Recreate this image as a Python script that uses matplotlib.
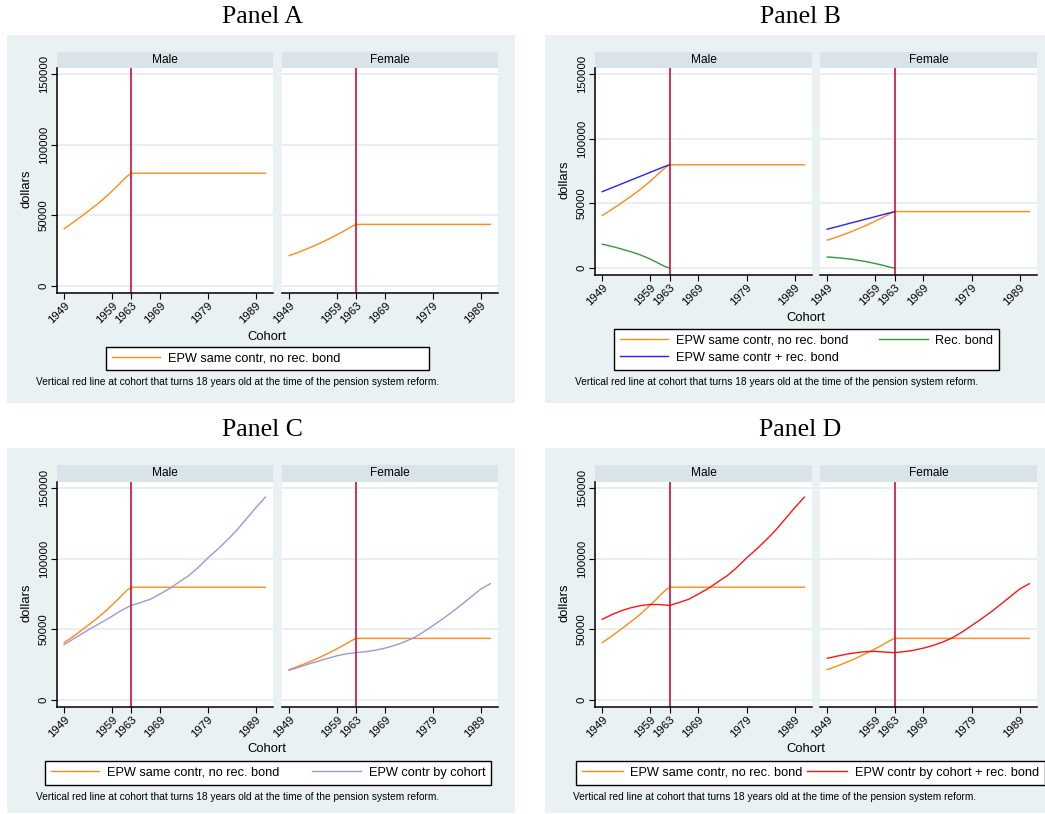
import matplotlib
matplotlib.use("Agg")
import matplotlib.pyplot as plt
from matplotlib.patches import Rectangle

plt.rcParams['font.family'] = ['Liberation Sans', 'DejaVu Sans']

# ---- data (dollars by birth cohort) ----
years_same = [1949, 1950, 1951, 1952, 1953, 1954, 1955, 1956, 1957, 1958,
              1959, 1960, 1961, 1962, 1963, 1991]
same_male = [40600, 42900, 45300, 47800, 50300, 52900, 55500, 58200, 61000, 64000,
             67200, 70500, 73900, 77300, 79800, 79800]
same_female = [21500, 22700, 24000, 25300, 26700, 28100, 29600, 31200, 32800, 34500,
               36300, 38100, 40000, 42000, 43600, 43600]

years_bond = [1949, 1950, 1951, 1952, 1953, 1954, 1955, 1956, 1957, 1958,
              1959, 1960, 1961, 1962, 1963]
bond_male = [18400, 17600, 16700, 15700, 14700, 13600, 12500, 11300, 10000, 8500,
             6800, 5000, 3100, 1200, 0]
bond_female = [8500, 8300, 7900, 7600, 7200, 6800, 6200, 5600, 5000, 4200,
               3400, 2600, 1700, 600, 0]
plus_male = [59000, 60500, 62000, 63500, 65000, 66500, 68000, 69500, 71000, 72500,
             74000, 75500, 77000, 78500, 79800]
plus_female = [30000, 31000, 31900, 32900, 33900, 34900, 35800, 36800, 37800, 38700,
               39700, 40700, 41700, 42600, 43600]

years_cohort = [1949, 1951, 1953, 1955, 1957, 1959, 1961, 1963, 1965, 1967, 1969,
                1971, 1973, 1975, 1977, 1979, 1981, 1983, 1985, 1987, 1989, 1991]
cohort_male = [39200, 43400, 47500, 51500, 55300, 59300, 63500, 66900, 69000, 71300, 75000,
               78800, 83500, 88000, 93800, 100500, 106500, 113000, 120000, 128000, 136000, 143500]
cohort_female = [21000, 23200, 25400, 27400, 29400, 31300, 32700, 33500, 34200, 35200, 36700,
                 38600, 41000, 44000, 48000, 52600, 57300, 62200, 67500, 73000, 78500, 82300]
cohort_bond_male = [57100, 60400, 63200, 65300, 66800, 67600, 67500, 66900, 69000, 71300, 75000,
                    78800, 83500, 88000, 93800, 100500, 106500, 113000, 120000, 128000, 136000, 143500]
cohort_bond_female = [29500, 31000, 32400, 33500, 34200, 34400, 33900, 33500, 34200, 35200, 36700,
                      38600, 41000, 44000, 48000, 52600, 57300, 62200, 67500, 73000, 78500, 82300]

xticks = [1949, 1959, 1963, 1969, 1979, 1989]
yticks = [0, 50000, 100000, 150000]
reform_year = 1963

ORANGE = '#ff8a14'
BLUE = '#2222ff'
GREEN = '#2f9a3a'
PURPLE = '#a095dd'
RED = '#ff1414'
VLINE = '#c8103c'
BG = '#e9f1f3'
STRIP = '#d8e4ea'

lab_same = 'EPW same contr, no rec. bond'
lab_plus = 'EPW same contr + rec. bond'
lab_bond = 'Rec. bond'
lab_cohort = 'EPW contr by cohort'
lab_cohort_bond = 'EPW contr by cohort + rec. bond'
caption = 'Vertical red line at cohort that turns 18 years old at the time of the pension system reform.'

s_same = (lab_same, ORANGE, years_same, same_male, same_female)
s_plus = (lab_plus, BLUE, years_bond, plus_male, plus_female)
s_bond = (lab_bond, GREEN, years_bond, bond_male, bond_female)
s_cohort = (lab_cohort, PURPLE, years_cohort, cohort_male, cohort_female)
s_cohort_bond = (lab_cohort_bond, RED, years_cohort, cohort_bond_male, cohort_bond_female)

W, H = 1045, 814
fig = plt.figure(figsize=(W / 100, H / 100), dpi=100)
fig.patch.set_facecolor('white')


def rect(x0, y0, x1, y1):
    return [x0 / W, 1 - y1 / H, (x1 - x0) / W, (y1 - y0) / H]


panels = [
    dict(title='Panel A', box=(7, 35, 515, 403), title_xy=(262, 17),
         cols=[(57, 273), (282, 498)], strip=(52, 68), plot=(68, 293),
         cohort_xy=(267, 337), dollars_xy=(27, 189),
         legend=(106, 347, 429), ncol=1, expand=True, caption_xy=(36, 382),
         series=[s_same], legend_order=[0]),
    dict(title='Panel B', box=(545, 35, 1045, 403), title_xy=(800, 17),
         cols=[(595, 812), (820, 1037)], strip=(52, 68), plot=(68, 275),
         cohort_xy=(806, 318), dollars_xy=(565, 180),
         legend=(614, 329, 999), ncol=2, expand=True, caption_xy=(575, 382),
         series=[s_same, s_plus, s_bond], legend_order=[0, 1, 2]),
    dict(title='Panel C', box=(7, 448, 515, 813), title_xy=(262, 430),
         cols=[(57, 273), (282, 498)], strip=(465, 482), plot=(482, 707),
         cohort_xy=(267, 749), dollars_xy=(27, 603),
         legend=(45, 761, 491), ncol=2, expand=True, caption_xy=(36, 797),
         series=[s_same, s_cohort], legend_order=[0, 1]),
    dict(title='Panel D', box=(545, 448, 1045, 813), title_xy=(800, 430),
         cols=[(595, 812), (820, 1037)], strip=(465, 482), plot=(482, 707),
         cohort_xy=(806, 749), dollars_xy=(565, 603),
         legend=(576, 761, 1036), ncol=2, expand=False, caption_xy=(573, 797),
         series=[s_same, s_cohort_bond], legend_order=[0, 1]),
]

for p in panels:
    bx0, by0, bx1, by1 = p['box']
    fig.add_artist(Rectangle((bx0 / W, 1 - by1 / H), (bx1 - bx0) / W, (by1 - by0) / H,
                             transform=fig.transFigure, facecolor=BG, edgecolor='none', zorder=0))
    fig.text(p['title_xy'][0] / W, 1 - p['title_xy'][1] / H, p['title'],
             family='Liberation Serif', fontsize=18.5, ha='center', va='center')

    # y limits so that 0 sits 7px above the axis and 150000 sits 6px below the strip
    pt, pb = p['plot']
    scale = 150000 / ((pb - 7) - (pt + 6))
    ylo, yhi = -7 * scale, 150000 + 6 * scale

    handles = []
    for i, (xl, xr) in enumerate(p['cols']):
        sax = fig.add_axes(rect(xl, p['strip'][0], xr, p['strip'][1]))
        sax.set_facecolor(STRIP)
        sax.set_xticks([])
        sax.set_yticks([])
        for sp in sax.spines.values():
            sp.set_visible(False)
        sax.text(0.5, 0.5, ['Male', 'Female'][i], transform=sax.transAxes,
                 ha='center', va='center', fontsize=8.6)

        ax = fig.add_axes(rect(xl, pt, xr, pb))
        ax.set_facecolor('white')
        ax.set_xlim(1947.5, 1992.6)
        ax.set_ylim(ylo, yhi)
        ax.set_axisbelow(True)
        ax.yaxis.grid(True, color='#e6eef1', lw=1.3)
        ax.set_yticks(yticks)
        ax.set_xticks(xticks)
        ax.set_xticklabels([str(t) for t in xticks])
        ax.tick_params(axis='x', length=4, width=0.8, labelsize=8.2, pad=1.5)
        for lab in ax.get_xticklabels():
            lab.set_rotation(45)
            lab.set_ha('right')
            lab.set_rotation_mode('anchor')
        for side in ('top', 'right'):
            ax.spines[side].set_visible(False)
        ax.spines['bottom'].set_linewidth(1.1)
        if i == 0:
            ax.spines['left'].set_linewidth(1.1)
            ax.set_yticklabels([str(t) for t in yticks])
            ax.tick_params(axis='y', length=4, width=0.8, labelsize=8.2, pad=2)
            for lab in ax.get_yticklabels():
                lab.set_rotation(90)
                lab.set_va('center')
        else:
            ax.spines['left'].set_visible(False)
            ax.tick_params(axis='y', left=False, labelleft=False)

        for label, color, yrs, vm, vf in p['series']:
            ln, = ax.plot(yrs, vm if i == 0 else vf, color=color, lw=1.0, label=label)
            if i == 0:
                handles.append(ln)
        ax.axvline(reform_year, color=VLINE, lw=1.2)

    fig.text(p['cohort_xy'][0] / W, 1 - p['cohort_xy'][1] / H, 'Cohort',
             fontsize=9.4, ha='center', va='center')
    fig.text(p['dollars_xy'][0] / W, 1 - p['dollars_xy'][1] / H, 'dollars',
             fontsize=9.4, ha='center', va='center', rotation=90)

    lx0, ltop, lx1 = p['legend']
    hs = [handles[k] for k in p['legend_order']]
    if p['expand']:
        anchor = (lx0 / W, 1 - ltop / H, (lx1 - lx0) / W, 0)
        extra = dict(mode='expand', handlelength=3.8, columnspacing=0.4)
    else:
        anchor = (lx0 / W, 1 - ltop / H)
        extra = dict(handlelength=3.2, columnspacing=0.3)
    leg = fig.legend(hs, [h.get_label() for h in hs], loc='upper left',
                     bbox_to_anchor=anchor, ncol=p['ncol'], fontsize=9.2,
                     frameon=True, fancybox=False, framealpha=1, edgecolor='black',
                     borderaxespad=0, borderpad=0.45,
                     handletextpad=0.6, labelspacing=0.4, **extra)
    leg.get_frame().set_linewidth(1.0)

    fig.text(p['caption_xy'][0] / W, 1 - p['caption_xy'][1] / H, caption,
             fontsize=7.3, ha='left', va='center')

fig.savefig('out.png', dpi=100)
